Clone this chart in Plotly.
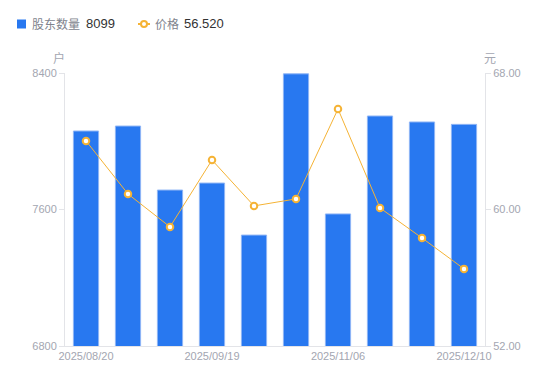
import plotly.graph_objects as go

dates = ["2025/08/20", "2025/08/29", "2025/09/10", "2025/09/19", "2025/09/30",
         "2025/10/20", "2025/11/06", "2025/11/20", "2025/11/30", "2025/12/10"]
holders = [8060, 8089, 7714, 7755, 7450, 8395, 7574, 8148, 8113, 8099]
prices = [64.02, 60.91, 58.98, 62.90, 60.21, 60.62, 65.89, 60.09, 58.33, 56.52]
shown_ticks = ["2025/08/20", "2025/09/19", "2025/11/06", "2025/12/10"]

BLUE = "#2878f0"
ORANGE = "#f5b335"
GRAY = "#a3a6b1"
AXIS = "#e3e4e8"
FONT = "Liberation Sans, Noto Sans CJK SC, sans-serif"
CJK = "Noto Sans CJK SC, Liberation Sans"

# page body has an 8px default margin; lay out in window pixels and offset
OFF = 8
WIN_W, WIN_H = 550, 381
W, H = WIN_W - OFF, WIN_H - OFF
PLOT_L, PLOT_R, PLOT_T, PLOT_B = 65, 485, 73, 346  # window pixels
L, R, T, B = PLOT_L - OFF, W - (PLOT_R - OFF), PLOT_T - OFF, H - (PLOT_B - OFF)
PW, PH = PLOT_R - PLOT_L, PLOT_B - PLOT_T


def px(x):
    return (x - PLOT_L) / PW


def py(y):
    return (PLOT_B - y) / PH


fig = go.Figure()
fig.add_trace(go.Bar(
    x=dates, y=holders, name="股东数量",
    marker=dict(color=BLUE, line=dict(color="#8fb5f5", width=1)),
    width=0.6, yaxis="y"))
fig.add_trace(go.Scatter(
    x=dates, y=prices, name="价格",
    mode="lines+markers", line=dict(color=ORANGE, width=1),
    marker=dict(size=6.5, color="white", line=dict(color=ORANGE, width=2)),
    yaxis="y2"))

legend_y = 24
shapes = [
    dict(type="rect", xref="paper", yref="paper", x0=px(17), x1=px(26), y0=py(28.5), y1=py(19.5),
         fillcolor=BLUE, line=dict(width=0), layer="above"),
    dict(type="line", xref="paper", yref="paper", x0=px(138), x1=px(150), y0=py(legend_y), y1=py(legend_y),
         line=dict(color=ORANGE, width=2)),
    dict(type="circle", xref="paper", yref="paper", x0=px(141), x1=px(147), y0=py(27), y1=py(21),
         fillcolor="white", line=dict(color=ORANGE, width=2)),
]


def ann(text, x, y, color, size=12, family=CJK, anchor="left"):
    return dict(text=text, xref="paper", yref="paper", x=px(x), y=py(y), xanchor=anchor,
                yanchor="middle", showarrow=False, font=dict(size=size, color=color, family=family))


annotations = [
    ann("股东数量", 30, legend_y, "#80838d"),
    ann("%d" % holders[-1], 84, legend_y, "#333333", family=FONT, size=13),
    ann("价格", 153, legend_y, "#80838d"),
    ann("%.3f" % prices[-1], 182, legend_y, "#333333", family=FONT, size=13),
    ann("户", 59, 57, GRAY, anchor="center"),
    ann("元", 490, 57, GRAY, anchor="center"),
]

fig.update_layout(
    width=W, height=H,
    margin=dict(l=L, r=R, t=T, b=B, autoexpand=False),
    paper_bgcolor="white", plot_bgcolor="white",
    font=dict(family=FONT, size=11, color=GRAY),
    showlegend=False,
    bargap=0.4,
    xaxis=dict(type="category", categoryorder="array", categoryarray=dates,
               range=[-0.5, len(dates) - 0.5],
               tickmode="array", tickvals=shown_ticks, ticktext=shown_ticks,
               showgrid=False, showline=True, linecolor=AXIS, linewidth=1,
               ticks="", tickfont=dict(size=11, color=GRAY), zeroline=False, automargin=False),
    yaxis=dict(range=[6800, 8400], tickvals=[6800, 7600, 8400],
               showgrid=False, showline=True, linecolor=AXIS, linewidth=1,
               ticks="outside", ticklen=5, tickcolor=AXIS,
               tickfont=dict(size=11, color=GRAY), zeroline=False, automargin=False),
    yaxis2=dict(range=[52, 68], tickvals=[52, 60, 68], tickformat=".2f",
                overlaying="y", side="right",
                showgrid=False, showline=True, linecolor=AXIS, linewidth=1,
                ticks="outside", ticklen=5, tickcolor=AXIS,
                tickfont=dict(size=11, color=GRAY), zeroline=False, automargin=False),
    shapes=shapes,
    annotations=annotations,
)

fig.write_html("out.html")
